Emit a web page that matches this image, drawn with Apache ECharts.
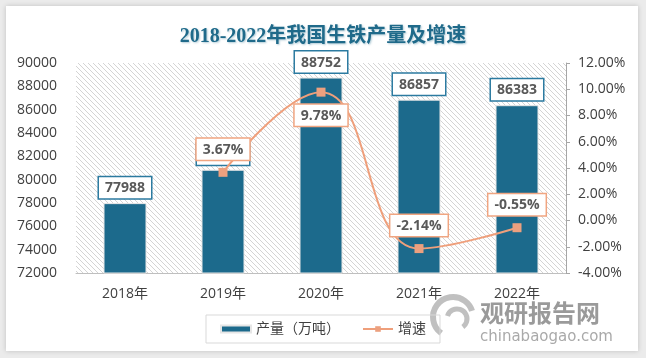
<!DOCTYPE html>
<html>
<head>
<meta charset="utf-8">
<script src="https://cdn.jsdelivr.net/npm/echarts@6/dist/echarts.min.js"></script>
<style>
html,body{margin:0;padding:0;width:646px;height:358px;overflow:hidden;background:#ebebeb;}
#card{position:absolute;left:6px;top:6px;width:632px;height:345px;background:#fff;box-shadow:0 0 5px rgba(0,0,0,0.18);}
#main{position:absolute;left:0;top:0;width:646px;height:358px;}
</style>
</head>
<body>
<div id="card"></div>
<div id="main"></div>
<script>
var years = ['2018年','2019年','2020年','2021年','2022年'];
var output = [77988, 80849, 88752, 86857, 86383];
var growth = [null, 3.67, 9.78, -2.14, -0.55];
var growthLabelPos = ['top','top','bottom','top','top'];
var leftTicks = {min:72000, max:90000, interval:2000};
var rightTicks = {min:-4, max:12, interval:2};

// hatch pattern
var pc = document.createElement('canvas');
pc.width = 5; pc.height = 5;
var g = pc.getContext('2d');
g.fillStyle = '#ffffff'; g.fillRect(0,0,5,5);
g.strokeStyle = '#d4d4d4'; g.lineWidth = 1;
g.beginPath();
g.moveTo(-1,-1); g.lineTo(6,6);
g.moveTo(-1,4); g.lineTo(1,6);
g.moveTo(4,-1); g.lineTo(6,1);
g.stroke();

var chart = echarts.init(document.getElementById('main'));
var font = '"Open Sans", "Noto Sans CJK SC", sans-serif';
chart.setOption({
  backgroundColor: 'transparent',
  title: {
    text: '2018-2022年我国生铁产量及增速',
    left: 'center', top: 22,
    textStyle: {fontFamily: '"Liberation Serif", "DejaVu Serif", "Noto Sans CJK SC", serif', fontSize: 20, fontWeight: 'bold', color: '#1f6a8a',
      textShadowColor: 'rgba(31,106,138,0.35)', textShadowBlur: 2, textShadowOffsetX: 1, textShadowOffsetY: 1}
  },
  grid: {left: 76, right: 80, top: 63, bottom: 85, show: true, borderWidth: 0,
    backgroundColor: {image: pc, repeat: 'repeat'}},
  legend: {
    bottom: 15, left: 'center',
    itemGap: 22, itemWidth: 30, itemHeight: 7,
    padding: [7, 14],
    borderColor: '#d9d9d9', borderWidth: 1,
    textStyle: {fontFamily: font, fontSize: 14, color: '#404040'},
    data: [{name: '产量（万吨）', icon: 'rect'}, {name: '增速'}]
  },
  xAxis: {
    type: 'category', data: years,
    axisLine: {onZero: false, lineStyle: {color: '#bfbfbf'}},
    axisTick: {show: false},
    axisLabel: {fontFamily: font, fontSize: 14, color: '#404040', margin: 14}
  },
  yAxis: [{
    type: 'value', min: leftTicks.min, max: leftTicks.max, interval: leftTicks.interval,
    axisLine: {show: false}, axisTick: {show: false}, splitLine: {show: false},
    axisLabel: {fontFamily: font, fontSize: 14, color: '#404040', margin: 19,
      formatter: function(v){ return String(v); }}
  }, {
    type: 'value', min: rightTicks.min, max: rightTicks.max, interval: rightTicks.interval,
    axisLine: {show: true, lineStyle: {color: '#a6a6a6'}},
    axisTick: {show: true, length: 4, lineStyle: {color: '#a6a6a6'}},
    splitLine: {show: false},
    axisLabel: {fontFamily: font, fontSize: 14, color: '#404040', margin: 12,
      formatter: function(v){ return v.toFixed(2) + '%'; }}
  }],
  series: [{
    name: '产量（万吨）', type: 'bar', data: output, barWidth: 43, z: 2,
    itemStyle: {color: '#1c6a8c', borderColor: '#e6e6e6', borderWidth: 1},
    label: {show: true, position: 'top', distance: 5,
      fontFamily: font, fontSize: 14, fontWeight: 'bold', color: '#595959',
      backgroundColor: '#fff', borderColor: '#2b7aa0', borderWidth: 1.5, padding: [4, 6, 3, 6]}
  }, {
    name: '增速', type: 'line', yAxisIndex: 1, z: 5, smooth: 0.45,
    data: growth.map(function(v, i){ return {value: v, label: {position: growthLabelPos[i]}}; }),
    symbol: 'rect', symbolSize: 9,
    lineStyle: {color: '#ef9f7b', width: 2},
    itemStyle: {color: '#eca07f'},
    label: {show: true, distance: 8,
      formatter: function(p){ return p.value.toFixed(2) + '%'; },
      fontFamily: font, fontSize: 14, fontWeight: 'bold', color: '#595959',
      backgroundColor: '#fff', borderColor: '#f0a581', borderWidth: 1.5, padding: [4, 6, 3, 6]}
  }],
  graphic: [{
    type: 'group', left: 430, top: 294, silent: true, z: 100,
    children: [
      {type: 'arc', shape: {cx: 26, cy: 18, r: 20, startAngle: Math.PI*0.7, endAngle: Math.PI*1.9}, style: {stroke: 'rgba(140,140,140,0.55)', lineWidth: 6, fill: null}},
      {type: 'arc', shape: {cx: 30, cy: 20, r: 10, startAngle: Math.PI*1.1, endAngle: Math.PI*2.3}, style: {stroke: 'rgba(140,140,140,0.55)', lineWidth: 5, fill: null}},
      {type: 'text', left: 53, top: 2, style: {text: '观研报告网', fontFamily: '"Noto Sans CJK SC", sans-serif', fontSize: 24, fontWeight: 'bold', fill: 'rgba(120,120,120,0.75)'}},
      {type: 'text', left: 53, top: 31, style: {text: 'chinabaogao.com', fontFamily: '"DejaVu Sans", sans-serif', fontSize: 15, fill: 'rgba(140,140,140,0.75)'}}
    ]
  }]
});
</script>
</body>
</html>
